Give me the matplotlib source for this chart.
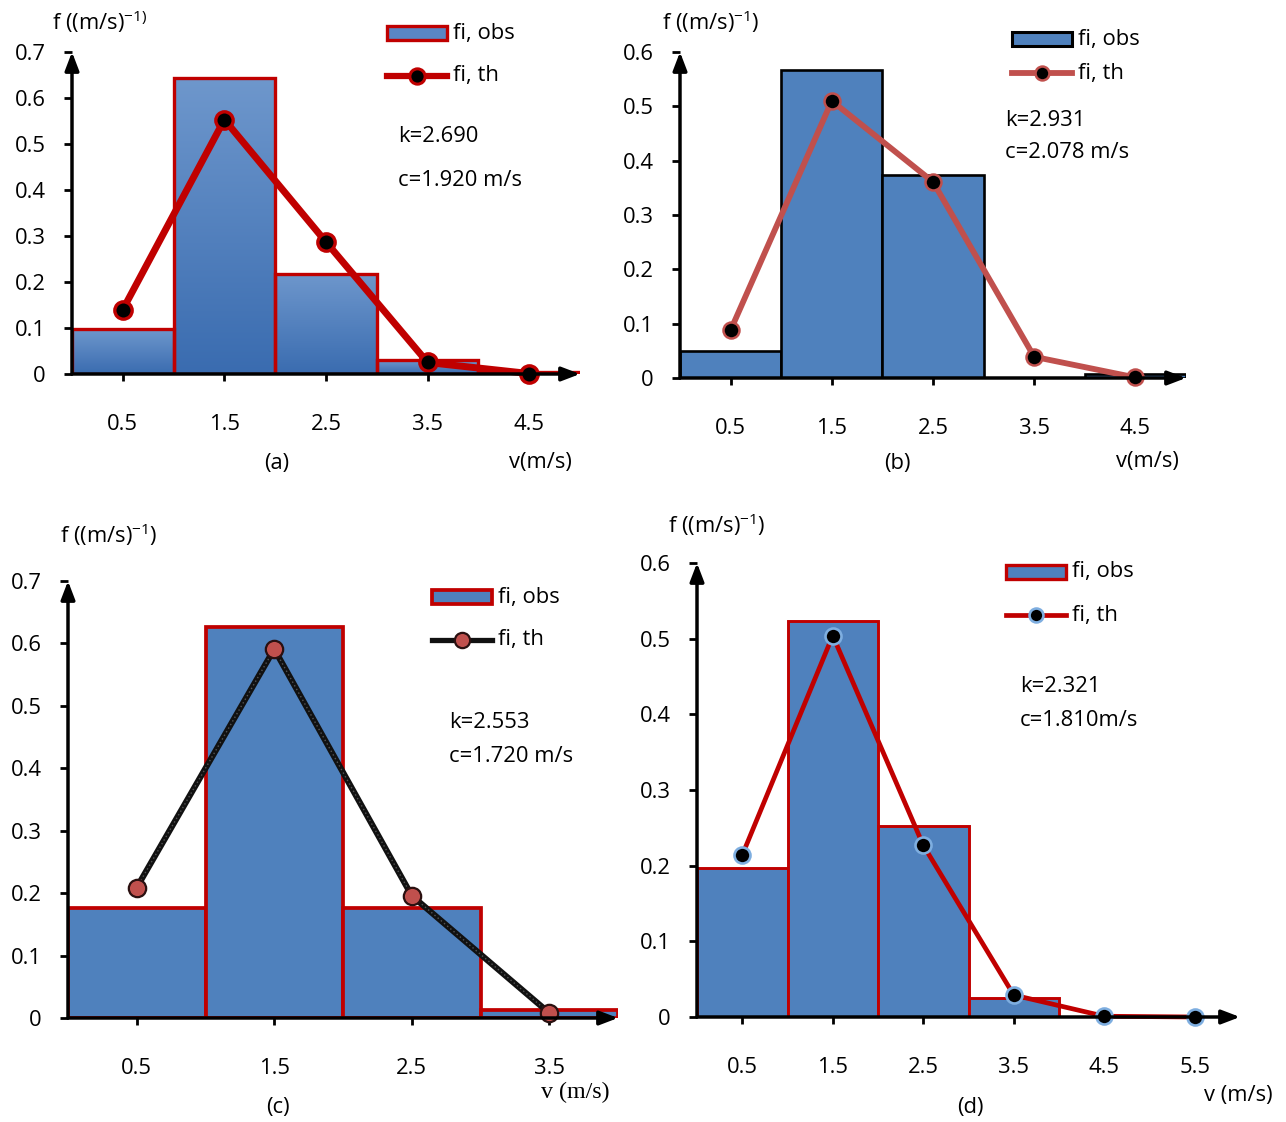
import matplotlib
matplotlib.use('Agg')
import matplotlib.pyplot as plt
import numpy as np
from matplotlib.patches import Rectangle
from matplotlib.lines import Line2D
from matplotlib.colors import LinearSegmentedColormap

plt.rcParams['font.family'] = ['Open Sans', 'DejaVu Sans']
plt.rcParams['mathtext.fontset'] = 'custom'
plt.rcParams['mathtext.rm'] = 'Open Sans'

W, H = 1286, 1122

# ---------------- data ----------------
bins_a = [0, 1, 2, 3, 4]
obs_a = [0.097, 0.643, 0.218, 0.030, 0.004]
vx_a = [0.5, 1.5, 2.5, 3.5, 4.5]
th_a = [0.140, 0.553, 0.287, 0.025, 0.001]

bins_b = [0, 1, 2, 3, 4]
obs_b = [0.049, 0.567, 0.374, 0.0, 0.007]
vx_b = [0.5, 1.5, 2.5, 3.5, 4.5]
th_b = [0.088, 0.510, 0.361, 0.039, 0.001]

bins_c = [0, 1, 2, 3]
obs_c = [0.177, 0.626, 0.177, 0.013]
vx_c = [0.5, 1.5, 2.5, 3.5]
th_c = [0.209, 0.591, 0.196, 0.008]

bins_d = [0, 1, 2, 3, 4]
obs_d = [0.197, 0.524, 0.252, 0.025, 0.0]
vx_d = [0.5, 1.5, 2.5, 3.5, 4.5, 5.5]
th_d = [0.214, 0.504, 0.227, 0.029, 0.001, 0.0]

xticks_a = ['0.5', '1.5', '2.5', '3.5', '4.5']
xticks_b = ['0.5', '1.5', '2.5', '3.5', '4.5']
xticks_c = ['0.5', '1.5', '2.5', '3.5']
xticks_d = ['0.5', '1.5', '2.5', '3.5', '4.5', '5.5']

params_a = ['k=2.690', 'c=1.920 m/s']
params_b = ['k=2.931', 'c=2.078 m/s']
params_c = ['k=2.553', 'c=1.720 m/s']
params_d = ['k=2.321', 'c=1.810m/s']

FS = 15.8

fig = plt.figure(figsize=(W / 100, H / 100), dpi=100)


def fx(x):
    return x / W


def fy(y):
    return 1 - y / H


def make_axes(x0, x1, y0, y1):
    return fig.add_axes([fx(x0), fy(y0), fx(x1) - fx(x0), (y0 - y1) / H])


def style_axes(ax, xmax, ymax, xt_labels, xt_pos):
    ax.set_xlim(0, xmax)
    ax.set_ylim(0, ymax)
    for s in ax.spines.values():
        s.set_visible(False)
    yt = np.round(np.arange(0, ymax + 1e-9, 0.1), 1)
    ax.set_yticks(yt)
    ax.set_yticklabels(['0' if v == 0 else f'{v:.1f}' for v in yt])
    ax.set_xticks(xt_pos)
    ax.set_xticklabels(xt_labels)
    ax.tick_params(axis='y', direction='out', length=6, width=2, pad=13,
                   labelsize=FS)
    ax.tick_params(axis='x', direction='out', length=5, width=2, pad=24,
                   labelsize=FS)
    ax.patch.set_alpha(0)
    arrow = dict(arrowstyle='-|>,head_length=1.1,head_width=0.42',
                 lw=2.5, color='black', shrinkA=0, shrinkB=0)
    ax.annotate('', xy=(1, 0), xytext=(0, 0), xycoords='axes fraction',
                arrowprops=arrow, annotation_clip=False, zorder=5)
    ax.annotate('', xy=(0, 1), xytext=(0, 0), xycoords='axes fraction',
                arrowprops=arrow, annotation_clip=False, zorder=5)


def legend(x0, y_obs, y_th, face, bar_edge, bar_lw, line_c, line_lw,
           mk_face, mk_edge, mk_size, mk_ew):
    rect = Rectangle((fx(x0), fy(y_obs + 7)), 60 / W, 14 / H,
                     transform=fig.transFigure, facecolor=face,
                     edgecolor=bar_edge, lw=bar_lw)
    fig.add_artist(rect)
    fig.text(fx(x0 + 66), fy(y_obs), 'fi, obs', fontsize=FS,
             va='center', ha='left')
    ln = Line2D([fx(x0), fx(x0 + 60)], [fy(y_th), fy(y_th)],
                transform=fig.transFigure, color=line_c, lw=line_lw)
    fig.add_artist(ln)
    mk = Line2D([fx(x0 + 30)], [fy(y_th)], transform=fig.transFigure,
                marker='o', ms=mk_size, mfc=mk_face, mec=mk_edge, mew=mk_ew,
                lw=0)
    fig.add_artist(mk)
    fig.text(fx(x0 + 66), fy(y_th), 'fi, th', fontsize=FS,
             va='center', ha='left')


# ---------------- panel (a) ----------------
ax = make_axes(72, 580, 374, 52)
cmap_a = LinearSegmentedColormap.from_list('ga', ['#3a6cb0', '#6e97cc'])
grad = np.linspace(0, 1, 100).reshape(-1, 1)
bars = ax.bar(bins_a, obs_a, width=1, align='edge', facecolor='none',
              edgecolor='#c00000', lw=2.4, zorder=2)
for b in bars:
    x, y, w, h = b.get_x(), b.get_y(), b.get_width(), b.get_height()
    if h <= 0:
        continue
    im = ax.imshow(grad, extent=[x, x + w, y, y + h], origin='lower',
                   cmap=cmap_a, aspect='auto', zorder=1)
    im.set_clip_path(b)
ax.plot(vx_a, th_a, color='#c00000', lw=5.0, marker='o', ms=12.5,
        mfc='black', mec='#c00000', mew=2.4, zorder=4, clip_on=False)
style_axes(ax, 5.0, 0.7, xticks_a, vx_a)

fig.text(fx(52), fy(22), r'f ((m/s)$^{\mathregular{-1)}}$', fontsize=FS,
         va='center', ha='left')
fig.text(fx(398), fy(137), params_a[0], fontsize=FS, va='center')
fig.text(fx(398), fy(180), params_a[1], fontsize=FS, va='center')
fig.text(fx(277), fy(464), '(a)', fontsize=FS, va='center', ha='center')
fig.text(fx(540), fy(463), 'v(m/s)', fontsize=FS, va='center', ha='center')
legend(387, 33, 76, '#5a86c4', '#c00000', 2.4, '#c00000', 4.5,
       'black', '#c00000', 11, 2.2)

# ---------------- panel (b) ----------------
ax = make_axes(680, 1186, 378, 52)
ax.bar(bins_b, obs_b, width=1, align='edge', facecolor='#4f81bd',
       edgecolor='black', lw=1.9, zorder=2)
ax.plot(vx_b, th_b, color='#c0504d', lw=4.2, marker='o', ms=11.5,
        mfc='black', mec='#c0504d', mew=1.8, zorder=4, clip_on=False)
style_axes(ax, 5.0, 0.6, xticks_b, vx_b)

fig.text(fx(662), fy(22), r'f ((m/s)$^{\mathregular{-1}}$)', fontsize=FS,
         va='center', ha='left')
fig.text(fx(1005), fy(120), params_b[0], fontsize=FS, va='center')
fig.text(fx(1005), fy(153), params_b[1], fontsize=FS, va='center')
fig.text(fx(897), fy(464), '(b)', fontsize=FS, va='center', ha='center')
fig.text(fx(1147), fy(462), 'v(m/s)', fontsize=FS, va='center', ha='center')
legend(1012, 39, 73, '#4f81bd', 'black', 2.2, '#c0504d', 4.2,
       'black', '#c0504d', 10, 1.8)

# ---------------- panel (c) ----------------
ax = make_axes(68, 618, 1018, 581)
ax.bar(bins_c, obs_c, width=1, align='edge', facecolor='#4f81bd',
       edgecolor='#c00000', lw=2.7, zorder=2)
ax.plot(vx_c, th_c, color='#111111', lw=4.4, zorder=3, clip_on=False)
ax.plot(vx_c, th_c, color='#555555', lw=1.0, ls=(0, (1, 2)), zorder=3)
ax.plot(vx_c, th_c, lw=0, marker='o', ms=12.5, mfc='#c0504d',
        mec='#2a1010', mew=1.6, zorder=4, clip_on=False)
style_axes(ax, 4.0, 0.7, xticks_c, vx_c)

fig.text(fx(60), fy(535), r'f ((m/s)$^{\mathregular{-1}}$)', fontsize=FS,
         va='center', ha='left')
fig.text(fx(449), fy(722), params_c[0], fontsize=FS, va='center')
fig.text(fx(449), fy(756), params_c[1], fontsize=FS, va='center')
fig.text(fx(278), fy(1107), '(c)', fontsize=FS, va='center', ha='center')
fig.text(fx(575), fy(1092), 'v (m/s)', fontsize=FS + 1.5, va='center',
         ha='center', family=['Liberation Serif', 'DejaVu Serif'])
legend(432, 597, 640, '#4f81bd', '#c00000', 2.7, '#111111', 3.8,
       '#c0504d', '#2a1010', 11, 1.6)

# ---------------- panel (d) ----------------
ax = make_axes(697, 1240, 1017, 563)
ax.bar(bins_d, obs_d, width=1, align='edge', facecolor='#4f81bd',
       edgecolor='#c00000', lw=2.1, zorder=2)
ax.plot(vx_d, th_d, color='#c00000', lw=3.4, marker='o', ms=11.5,
        mfc='black', mec='#7eaee0', mew=1.9, zorder=4, clip_on=False)
style_axes(ax, 6.0, 0.6, xticks_d, vx_d)

fig.text(fx(668), fy(525), r'f ((m/s)$^{\mathregular{-1}}$)', fontsize=FS,
         va='center', ha='left')
fig.text(fx(1020), fy(686), params_d[0], fontsize=FS, va='center')
fig.text(fx(1020), fy(720), params_d[1], fontsize=FS, va='center')
fig.text(fx(970), fy(1107), '(d)', fontsize=FS, va='center', ha='center')
fig.text(fx(1238), fy(1095), 'v (m/s)', fontsize=FS, va='center',
         ha='center')
legend(1006, 572, 615, '#4f81bd', '#c00000', 2.4, '#c00000', 3.4,
       'black', '#7eaee0', 10, 1.9)

fig.savefig('out.png', dpi=100)
